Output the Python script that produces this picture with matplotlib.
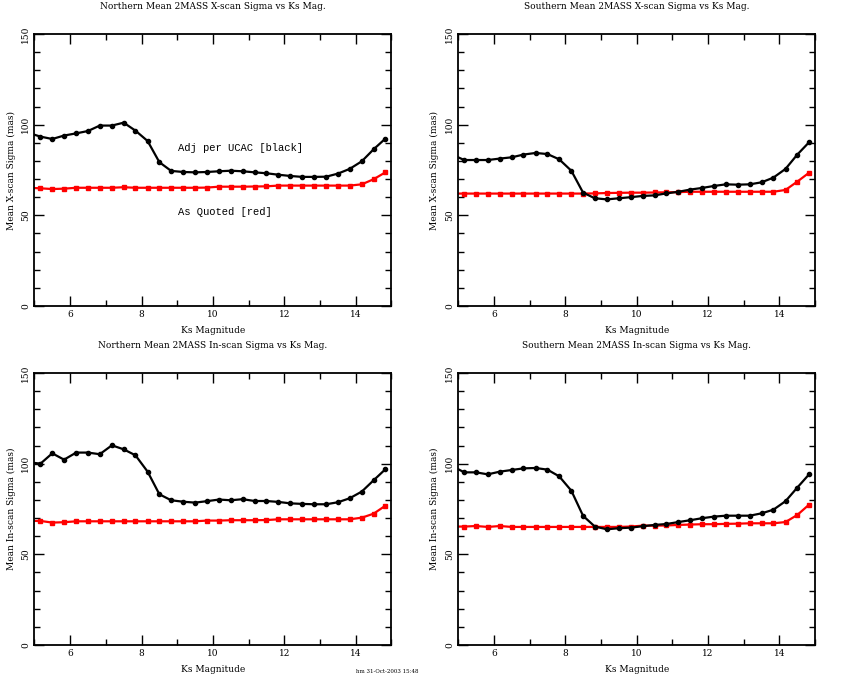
import numpy as np
import matplotlib
matplotlib.use('Agg')
import matplotlib.pyplot as plt
from matplotlib.ticker import MultipleLocator

# Ks magnitude bin centres (1/3 mag bins; first one sits just off the left edge)
mag = [4.83, 5.17, 5.5, 5.83, 6.17, 6.5, 6.83, 7.17, 7.5, 7.83, 8.17, 8.5, 8.83,
       9.17, 9.5, 9.83, 10.17, 10.5, 10.83, 11.17, 11.5, 11.83, 12.17, 12.5,
       12.83, 13.17, 13.5, 13.83, 14.17, 14.5, 14.83]

# Northern X-scan
north_x_adj = [95.5, 93.4, 92.1, 94.0, 95.2, 96.5, 99.5, 99.5, 101.1, 96.7, 91.0,
               79.3, 74.5, 73.9, 73.7, 73.9, 74.3, 74.6, 74.3, 73.7, 73.2, 72.4,
               71.7, 71.2, 71.2, 71.3, 73.0, 75.6, 79.8, 86.4, 92.3]
north_x_quo = [65.2, 64.9, 64.5, 64.7, 65.2, 65.2, 65.2, 65.2, 65.5, 65.2, 65.2,
               65.2, 65.2, 65.2, 65.2, 65.3, 65.8, 65.8, 65.8, 65.9, 66.0, 66.4,
               66.4, 66.4, 66.4, 66.4, 66.4, 66.4, 67.1, 69.9, 73.7]

# Southern X-scan
south_x_adj = [83.5, 80.5, 80.5, 80.5, 81.3, 82.0, 83.5, 84.4, 83.8, 80.9, 74.6,
               62.5, 59.4, 58.8, 59.4, 60.0, 60.7, 61.0, 62.1, 63.0, 64.2, 65.1,
               66.2, 67.1, 66.9, 67.1, 68.2, 70.8, 75.6, 83.5, 90.3]
south_x_quo = [62.0, 62.0, 62.0, 62.0, 62.0, 62.0, 62.0, 62.0, 62.0, 62.0, 62.0,
               62.0, 62.1, 62.3, 62.4, 62.5, 62.5, 62.6, 62.7, 62.8, 63.0, 63.0,
               63.0, 63.0, 63.0, 63.0, 63.0, 63.0, 64.0, 68.6, 73.5]

# Northern In-scan
north_i_adj = [100.8, 100.0, 105.7, 102.2, 106.1, 106.1, 105.2, 110.1, 107.9, 104.6,
               95.6, 83.1, 79.8, 79.0, 78.5, 79.3, 80.2, 79.8, 80.4, 79.4, 79.4,
               78.9, 78.1, 77.8, 77.6, 77.6, 78.7, 80.9, 84.6, 90.8, 96.9]
north_i_quo = [68.4, 68.4, 67.5, 67.7, 68.2, 68.2, 68.2, 68.2, 68.2, 68.2, 68.2,
               68.2, 68.2, 68.2, 68.2, 68.6, 68.6, 68.8, 68.8, 68.8, 68.9, 69.3,
               69.3, 69.3, 69.3, 69.3, 69.3, 69.3, 70.2, 72.4, 76.8]

# Southern In-scan
south_i_adj = [98.7, 95.2, 95.2, 94.1, 95.6, 96.5, 97.4, 97.6, 96.7, 93.0, 85.1,
               71.2, 65.3, 63.8, 64.4, 64.7, 65.5, 66.2, 66.7, 67.8, 68.8, 69.9,
               70.8, 71.3, 71.3, 71.3, 72.6, 74.6, 79.3, 86.8, 94.1]
south_i_quo = [65.3, 65.3, 65.6, 65.1, 65.6, 65.1, 65.1, 65.1, 65.1, 65.1, 65.1,
               65.1, 65.1, 65.1, 65.1, 65.3, 65.8, 65.8, 65.9, 66.2, 66.4, 66.6,
               66.6, 66.8, 66.9, 67.1, 67.1, 67.1, 67.8, 71.7, 77.4]

titles = ['Northern Mean 2MASS X-scan Sigma vs Ks Mag.',
          'Southern Mean 2MASS X-scan Sigma vs Ks Mag.',
          'Northern Mean 2MASS In-scan Sigma vs Ks Mag.',
          'Southern Mean 2MASS In-scan Sigma vs Ks Mag.']
ylabels = ['Mean X-scan Sigma (mas)', 'Mean X-scan Sigma (mas)',
           'Mean In-scan Sigma (mas)', 'Mean In-scan Sigma (mas)']
series = [(north_x_adj, north_x_quo), (south_x_adj, south_x_quo),
          (north_i_adj, north_i_quo), (south_i_adj, south_i_quo)]

plt.rcParams['font.family'] = ['DejaVu Serif']

fig = plt.figure(figsize=(8.5, 6.8), dpi=100)
positions = [[0.0405, 0.55, 0.42, 0.4], [0.539, 0.55, 0.42, 0.4],
             [0.0405, 0.0515, 0.42, 0.4], [0.539, 0.0515, 0.42, 0.4]]

for pos, title, ylab, (adj, quo) in zip(positions, titles, ylabels, series):
    ax = fig.add_axes(pos)
    ax.plot(mag, quo, color='red', lw=1.6, marker='s', ms=3)
    ax.plot(mag, adj, color='black', lw=1.6, marker='o', ms=3)
    ax.set_xlim(5, 15)
    ax.set_ylim(0, 150)
    ax.xaxis.set_major_locator(MultipleLocator(2))
    ax.xaxis.set_minor_locator(MultipleLocator(1))
    ax.yaxis.set_major_locator(MultipleLocator(50))
    ax.yaxis.set_minor_locator(MultipleLocator(10))
    ax.tick_params(which='both', direction='in', top=True, right=True,
                   labelsize=6.5, width=1, pad=3)
    ax.tick_params(which='major', length=7)
    ax.tick_params(which='minor', length=4)
    for lab in ax.get_yticklabels():
        lab.set_rotation(90)
        lab.set_va('center')
    for sp in ax.spines.values():
        sp.set_linewidth(1.3)
    ax.set_title(title, fontsize=6.5, pad=18)
    ax.set_xlabel('Ks Magnitude', fontsize=6.5, labelpad=5)
    ax.set_ylabel(ylab, fontsize=6.5, labelpad=4)

# annotation text on the first panel
ax0 = fig.axes[0]
ax0.text(9.03, 87.1, 'Adj per UCAC [black]', fontsize=7.6,
         family='Liberation Mono', va='center')
ax0.text(9.03, 51.8, 'As Quoted [red]', fontsize=7.6,
         family='Liberation Mono', va='center')

fig.text(0.455, 0.011, 'hm 31-Oct-2003 15:48', fontsize=4, ha='center')

fig.savefig('out.png', dpi=100)
